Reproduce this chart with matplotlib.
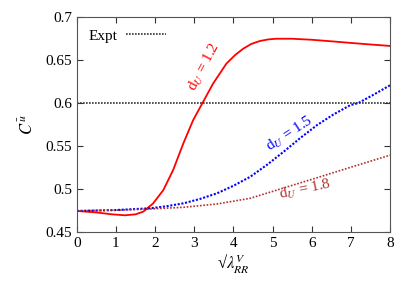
import numpy as np
import matplotlib
matplotlib.use("Agg")
import matplotlib.pyplot as plt

plt.rcParams["font.family"] = ["Liberation Serif", "DejaVu Serif"]
plt.rcParams["mathtext.fontset"] = "stix"

# values
x_12 = [0, 0.5, 0.9, 1.23, 1.5, 1.7, 1.95, 2.21, 2.46, 2.72, 2.97, 3.21, 3.48, 3.82, 4.05, 4.25,
        4.45, 4.67, 4.9, 5.1, 5.5, 6.0, 6.5, 7.0, 7.5, 8.0]
c_12 = [0.4745, 0.4727, 0.4705, 0.4694, 0.4705, 0.4737, 0.4833, 0.4988, 0.5221, 0.5531, 0.5802,
        0.6003, 0.6229, 0.6462, 0.6565, 0.6636, 0.6690, 0.6725, 0.6745, 0.6752, 0.6752, 0.6740,
        0.6722, 0.6703, 0.6685, 0.6668]

x_15 = [0, 1.0, 1.885, 2.3, 2.73, 3.15, 3.58, 4.0, 4.43, 4.85, 5.28, 5.7, 6.13, 6.55, 6.98, 7.19, 7.6, 8.0]
c_15 = [0.4745, 0.4755, 0.4776, 0.4800, 0.4834, 0.4885, 0.4950, 0.5038, 0.5143, 0.5280, 0.5434,
        0.5592, 0.5744, 0.5868, 0.5977, 0.6003, 0.6105, 0.6210]

x_18 = [0, 1.0, 1.885, 2.73, 3.58, 4.43, 5.28, 6.13, 6.98, 8.0]
c_18 = [0.4745, 0.4753, 0.4768, 0.4787, 0.4826, 0.4892, 0.5012, 0.5131, 0.5252, 0.5395]

expt = 0.6

fig, ax = plt.subplots(figsize=(4.15, 2.91), dpi=100)
fig.subplots_adjust(left=0.185, right=0.94, top=0.94, bottom=0.203)

ax.plot(x_12, c_12, color="#ff0000", lw=1.3)
ax.plot(x_15, c_15, color="#0000ff", lw=1.5, ls=(0, (1, 0.8)))
ax.plot(x_18, c_18, color="#b03030", lw=1.2, ls=(0, (1, 1)))
ax.axhline(expt, color="#333333", lw=1.2, ls=(0, (1, 0.8)), label="Expt")

ax.set_xlim(0, 8)
ax.set_ylim(0.45, 0.7)
ax.set_xticks(range(0, 9))
ax.set_yticks([0.45, 0.5, 0.55, 0.6, 0.65, 0.7])
ax.set_yticklabels(["0.45", "0.5", "0.55", "0.6", "0.65", "0.7"])
ax.tick_params(direction="in", top=True, right=True, labelsize=11, length=4, color="#333333")
for s in ax.spines.values():
    s.set_color("#555555")

ax.set_xlabel("√" + r"$\lambda^{V}_{RR}$", fontsize=12, labelpad=2)
ax.set_ylabel(r"$C^{\bar{u}}$", fontsize=12, labelpad=6)

ax.text(3.26, 0.642, r"d$_U$ = 1.2", color="#ff0000", fontsize=11, rotation=62, ha="center", va="center")
ax.text(5.45, 0.5647, r"d$_U$ = 1.5", color="#0000ff", fontsize=11, rotation=33, ha="center", va="center")
ax.text(5.83, 0.499, r"d$_U$ = 1.8", color="#b03030", fontsize=11, rotation=12, ha="center", va="center")

ax.legend(loc="upper left", frameon=False, fontsize=11, handlelength=2.6,
          handletextpad=0.6, borderaxespad=0.35, markerfirst=False)

fig.savefig("out.png", dpi=100)
